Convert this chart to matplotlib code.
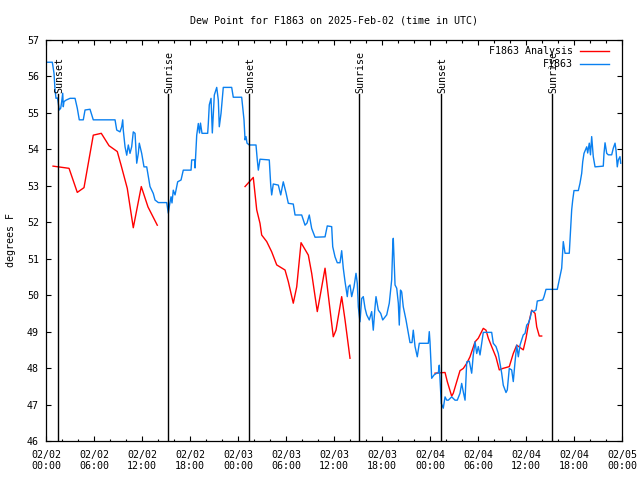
#!/usr/bin/env python3

import numpy as np
import pandas as pd
import matplotlib
matplotlib.use('Agg')
import matplotlib.pyplot as plt
import matplotlib.dates as mdates

# Observed dew point (F1863): hours since 2025-02-02 00:00 UTC, degrees F
obs_hours = [0.0, 0.79, 1.0, 1.13, 1.25, 1.44, 1.66, 1.84, 1.96, 2.09, 2.16, 2.25, 2.5, 3.0,
             3.63, 3.91, 4.16, 4.66, 4.88, 5.5, 5.91, 8.63, 8.84, 9.25, 9.46, 9.59, 9.66,
             9.88, 10.09, 10.29, 10.5, 10.71, 10.91, 11.13, 11.34, 11.54, 11.66, 11.96,
             12.25, 12.59, 12.79, 13.0, 13.41, 13.63, 14.04, 15.09, 15.29, 15.44, 15.63,
             15.75, 15.91, 16.13, 16.46, 16.88, 17.16, 18.13, 18.21, 18.59, 18.63, 18.84,
             19.04, 19.19, 19.31, 19.5, 20.21, 20.29, 20.41, 20.63, 20.79, 21.04, 21.34,
             21.54, 21.66, 21.88, 22.16, 23.21, 23.41, 24.46, 24.66, 24.75, 24.88, 25.0,
             25.13, 25.41, 26.25, 26.41, 26.54, 26.75, 27.91, 28.09, 28.21, 28.41, 29.04,
             29.34, 29.66, 30.0, 30.29, 30.91, 31.13, 31.96, 32.38, 32.63, 32.91, 33.21,
             33.63, 34.88, 35.16, 35.71, 35.84, 36.13, 36.41, 36.75, 36.96, 37.16, 37.38,
             37.66, 37.79, 38.0, 38.21, 38.5, 38.75, 38.91, 39.04, 39.25, 39.46, 39.66,
             39.88, 40.09, 40.41, 40.71, 40.91, 41.13, 41.25, 41.54, 41.84, 42.09, 42.59,
             42.91, 43.21, 43.34, 43.41, 43.63, 43.84, 44.04, 44.16, 44.31, 44.46, 44.66,
             45.0, 45.29, 45.5, 45.75, 45.91, 46.13, 46.41, 46.66, 47.79, 47.91, 48.0,
             48.13, 48.21, 48.5, 48.84, 49.04, 49.16, 49.34, 49.41, 49.66, 49.88, 50.09,
             50.29, 50.71, 51.13, 51.41, 51.75, 51.96, 52.16, 52.38, 52.59, 52.91, 53.21,
             53.41, 53.63, 53.84, 54.04, 54.25, 54.46, 54.66, 55.71, 55.91, 56.25, 56.54,
             56.75, 56.96, 57.16, 57.5, 57.66, 57.91, 58.21, 58.41, 58.63, 58.84, 59.04,
             59.25, 59.46, 59.66, 59.88, 60.09, 60.29, 60.5, 60.71, 60.91, 61.25, 61.41,
             62.09, 62.25, 62.5, 63.91, 64.16, 64.46, 64.59, 64.66, 64.88, 65.41, 65.59,
             65.71, 65.84, 66.0, 66.54, 66.75, 66.96, 67.09, 67.25, 67.59, 67.71, 67.91,
             68.06, 68.21, 68.41, 68.63, 69.66, 69.75, 69.88, 70.09, 70.29, 70.71, 70.91,
             71.13, 71.25, 71.41, 71.54, 71.75, 71.84]
obs_dewpt = [56.39, 56.39, 56.09, 55.63, 55.40, 55.41, 55.08, 55.13, 55.31, 55.54, 55.17,
             55.31, 55.35, 55.40, 55.40, 55.13, 54.81, 54.81, 55.08, 55.10, 54.81, 54.81,
             54.53, 54.48, 54.62, 54.81, 54.53, 54.07, 53.84, 54.12, 53.89, 54.07, 54.48,
             54.44, 53.62, 53.89, 54.17, 53.89, 53.52, 53.52, 53.25, 52.98, 52.79, 52.61,
             52.54, 52.54, 52.25, 52.47, 52.70, 52.53, 52.88, 52.75, 53.11, 53.16, 53.43,
             53.43, 53.71, 53.71, 53.49, 54.39, 54.71, 54.45, 54.72, 54.44, 54.44, 54.71,
             55.22, 55.40, 54.45, 55.49, 55.70, 55.35, 54.62, 54.99, 55.70, 55.70, 55.43,
             55.43, 54.99, 54.81, 54.26, 54.35, 54.17, 54.12, 54.12, 53.71, 53.43, 53.73,
             53.71, 53.02, 52.75, 53.05, 53.02, 52.75, 53.11, 52.81, 52.52, 52.50, 52.20,
             52.20, 51.92, 51.98, 52.20, 51.83, 51.59, 51.60, 51.90, 51.88, 51.33, 51.05,
             50.89, 50.89, 51.22, 50.74, 50.37, 49.96, 50.23, 50.28, 49.96, 50.23, 50.60,
             50.33, 49.68, 49.27, 49.91, 49.96, 49.64, 49.46, 49.32, 49.55, 49.04, 49.68,
             49.96, 49.59, 49.50, 49.32, 49.46, 49.78, 50.42, 51.33, 51.56, 50.28, 50.19,
             49.78, 49.18, 50.14, 50.09, 49.68, 49.32, 48.95, 48.70, 48.70, 49.04, 48.59,
             48.31, 48.68, 48.68, 49.00, 48.72, 48.06, 47.72, 47.81, 47.86, 47.87, 48.08,
             47.35, 47.03, 46.90, 47.21, 47.12, 47.12, 47.21, 47.12, 47.12, 47.31, 47.58,
             47.35, 47.12, 48.17, 48.19, 47.86, 48.36, 48.72, 48.40, 48.59, 48.36, 48.68,
             48.98, 48.98, 48.68, 48.59, 48.40, 48.13, 47.86, 47.53, 47.33, 47.40, 47.99,
             47.95, 47.63, 48.17, 48.63, 48.31, 48.63, 48.77, 48.91, 48.95, 49.18, 49.23,
             49.36, 49.57, 49.55, 49.59, 49.84, 49.87, 49.96, 50.16, 50.16, 50.42, 50.74,
             51.19, 51.47, 51.15, 51.15, 51.88, 52.34, 52.61, 52.87, 52.87, 53.07, 53.34,
             53.66, 53.89, 54.07, 53.90, 54.17, 53.85, 54.35, 53.80, 53.52, 53.54, 53.89,
             54.18, 53.89, 53.85, 53.85, 54.03, 54.17, 53.98, 53.52, 53.71, 53.80, 53.62]

# Analysis dew point, three runs separated by gaps (NaN)
ana_hours = [0.88, 2.88, 3.91, 4.75, 5.91, 6.91, 7.88, 8.91, 9.38, 10.16, 10.91, 11.91,
             12.75, 13.91, 14.5,
             24.88, 25.91, 26.34, 26.75, 26.96, 27.59, 28.21, 28.84, 29.88, 30.29, 30.91,
             31.34, 31.88, 32.79, 33.21, 33.91, 34.25, 34.88, 35.16, 35.91, 36.25, 36.96,
             37.38, 38.0, 38.5,
             48.63, 49.88, 50.16, 50.71, 50.91, 51.75, 52.16, 52.59, 53.0, 53.63, 54.04,
             54.66, 55.0, 55.29, 55.71, 56.25, 56.66, 57.09, 57.91, 58.41, 58.84, 59.66,
             60.0, 60.29, 60.71, 61.13, 61.34, 61.66, 61.96]
ana_dewpt = [53.54, 53.48, 52.82, 52.95, 54.39, 54.44, 54.10, 53.94, 53.57, 52.93, 51.85,
             52.98, 52.42, 51.92, np.nan,
             52.98, 53.23, 52.34, 51.97, 51.65, 51.47, 51.19, 50.83, 50.69, 50.37, 49.78,
             50.23, 51.44, 51.10, 50.60, 49.55, 49.96, 50.74, 50.23, 48.86, 49.04, 49.96,
             49.32, 48.27, np.nan,
             47.86, 47.88, 47.63, 47.23, 47.31, 47.93, 47.99, 48.13, 48.31, 48.72, 48.82,
             49.09, 49.04, 48.82, 48.59, 48.30, 47.95, 47.99, 48.04, 48.40, 48.63, 48.50,
             48.82, 49.18, 49.59, 49.50, 49.13, 48.88, 48.88]

# Sunrise / sunset markers (hours since start)
sun_hours = [1.54, 15.29, 25.42, 39.17, 49.42, 63.21]
sun_labels = ['Sunset', 'Sunrise', 'Sunset', 'Sunrise', 'Sunset', 'Sunrise']

start = pd.Timestamp('2025-02-02 00:00')


def to_time(hours):
    return start + pd.to_timedelta(np.array(hours, dtype=float), unit='h')


def main():
    plt.rcParams['font.family'] = ['DejaVu Sans Mono']
    plt.rcParams['font.size'] = 7.2

    fig = plt.figure(figsize=(6.4, 4.8), dpi=100)
    ax = fig.add_axes([46 / 640, 1 - 441 / 480, 576 / 640, 401 / 480])

    ax.plot(to_time(ana_hours), ana_dewpt, color='#ff0000', lw=1.0,
            label='F1863 Analysis')
    ax.plot(to_time(obs_hours), obs_dewpt, color='#0a80f0', lw=1.0, label='F1863')

    # sunrise / sunset lines with labels
    label_base = 55.55
    for h, lab in zip(sun_hours, sun_labels):
        t = to_time([h])[0]
        ax.plot([t, t], [46, label_base - 0.03], color='black', lw=1.0)
        ax.text(t + pd.Timedelta(minutes=10), label_base, lab, rotation=90,
                ha='center', va='bottom', fontsize=7.2)

    ax.set_xlim(start, start + pd.Timedelta(hours=72))
    ax.set_ylim(46, 57)
    ax.set_yticks(range(46, 58))

    ax.xaxis.set_major_locator(mdates.HourLocator(byhour=[0, 6, 12, 18]))
    ax.xaxis.set_major_formatter(mdates.DateFormatter('%m/%d\n%H:%M'))
    ax.xaxis.set_minor_locator(mdates.HourLocator(interval=2))

    ax.tick_params(which='both', direction='in', top=True, right=True,
                   labelsize=7.2, width=0.8)
    ax.tick_params(which='major', length=3.3, pad=5)
    ax.tick_params(axis='x', which='major', pad=6.5)
    ax.tick_params(which='minor', length=1.8)
    for lbl in ax.get_xticklabels():
        lbl.set_linespacing(1.15)
    for s in ax.spines.values():
        s.set_linewidth(0.9)

    ax.set_title('Dew Point for F1863 on 2025-Feb-02 (time in UTC)',
                 fontsize=7.2, pad=12)
    ax.set_ylabel('degrees F', fontsize=7.2, labelpad=8)

    ax.legend(loc='upper right', frameon=False, markerfirst=False,
              handlelength=2.9, handletextpad=0.7, labelspacing=0.3,
              borderaxespad=0.0, bbox_to_anchor=(0.985, 0.995), fontsize=7.2)

    fig.savefig('out.png', dpi=100)


if __name__ == "__main__":
    main()
